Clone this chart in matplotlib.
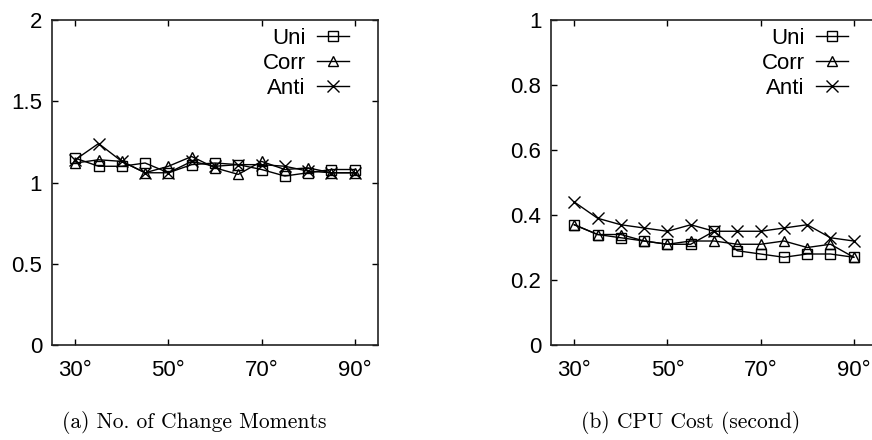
import matplotlib
matplotlib.use("Agg")
import matplotlib.pyplot as plt
import numpy as np

# angles on the x axis
angles = [30, 35, 40, 45, 50, 55, 60, 65, 70, 75, 80, 85, 90]
tick_angles = [30, 50, 70, 90]

# (a) number of change moments
moments_uni = [1.15, 1.10, 1.10, 1.12, 1.06, 1.11, 1.12, 1.11, 1.08, 1.04, 1.06, 1.08, 1.08]
moments_corr = [1.12, 1.14, 1.13, 1.06, 1.10, 1.16, 1.09, 1.05, 1.13, 1.08, 1.09, 1.06, 1.06]
moments_anti = [1.14, 1.24, 1.13, 1.06, 1.06, 1.13, 1.10, 1.11, 1.11, 1.10, 1.07, 1.06, 1.06]

# (b) cpu cost in seconds
cpu_uni = [0.37, 0.34, 0.33, 0.32, 0.31, 0.31, 0.35, 0.29, 0.28, 0.27, 0.28, 0.28, 0.27]
cpu_corr = [0.37, 0.34, 0.34, 0.32, 0.31, 0.32, 0.32, 0.31, 0.31, 0.32, 0.30, 0.31, 0.27]
cpu_anti = [0.44, 0.39, 0.37, 0.36, 0.35, 0.37, 0.35, 0.35, 0.35, 0.36, 0.37, 0.33, 0.32]

series_names = ["Uni", "Corr", "Anti"]
markers = ["s", "^", "x"]

plt.rcParams["font.family"] = ["Liberation Sans", "DejaVu Sans"]

fig = plt.figure(figsize=(8.72, 4.4), dpi=100)
ax1 = fig.add_axes([0.0596, 0.2159, 0.3739, 0.7386])
ax2 = fig.add_axes([0.6319, 0.2159, 0.3739, 0.7386])


def draw(ax, data, ymax, yticks, ylabels, caption, cap_x, right_side):
    for vals, name, m in zip(data, series_names, markers):
        ax.plot(angles, vals, color="black", lw=1.0, marker=m, markersize=7.5 if m != "x" else 9,
                markerfacecolor="none", markeredgecolor="black", markeredgewidth=1.0, label=name)
    ax.set_xlim(25, 95)
    ax.set_ylim(0, ymax)
    ax.set_xticks(tick_angles)
    ax.set_xticklabels([str(a) + "°" for a in tick_angles])
    ax.set_yticks(yticks)
    ax.set_yticklabels(ylabels)
    ax.tick_params(direction="in", length=4, width=1, top=True, right=right_side,
                   labelsize=16, colors="black")
    ax.tick_params(axis="x", pad=11)
    ax.tick_params(axis="y", pad=7)
    for sp in ax.spines.values():
        sp.set_linewidth(1.2)
        sp.set_color("#222222")
    # right plot runs off the edge of the page
    ax.spines["right"].set_visible(right_side)
    ax.legend(loc="upper right", bbox_to_anchor=(0.925, 0.99), frameon=False,
              markerfirst=False, fontsize=16, handlelength=1.45, handletextpad=0.5,
              labelspacing=0.18, borderaxespad=0.0, borderpad=0.2)
    fig.text(cap_x, 0.039, caption, family="cmr10", fontsize=15.5, ha="center", va="center")


draw(ax1, [moments_uni, moments_corr, moments_anti], 2,
     [0, 0.5, 1, 1.5, 2], ["0", "0.5", "1", "1.5", "2"],
     "(a) No. of Change Moments", 0.2225, True)
draw(ax2, [cpu_uni, cpu_corr, cpu_anti], 1,
     [0, 0.2, 0.4, 0.6, 0.8, 1], ["0", "0.2", "0.4", "0.6", "0.8", "1"],
     "(b) CPU Cost (second)", 0.7924, False)

fig.savefig("out.png", dpi=100)
